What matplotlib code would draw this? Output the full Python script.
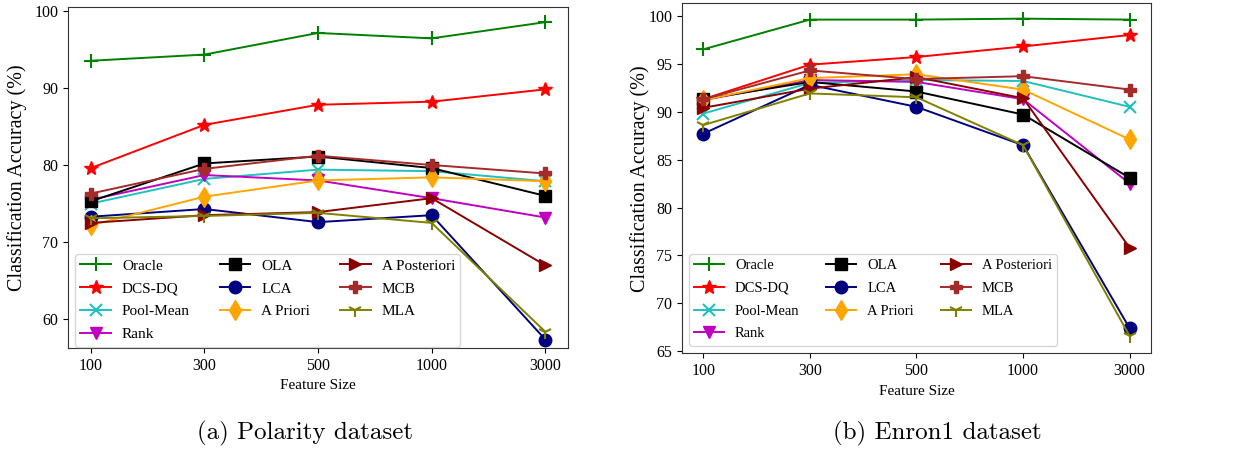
import matplotlib as mpl; mpl.use('agg')
import matplotlib.pyplot as plt

sizes = ['100', '300', '500', '1000', '3000']
methods = ['Oracle', 'DCS-DQ', 'Pool-Mean', 'Rank', 'OLA', 'LCA',
           'A Priori', 'A Posteriori', 'MCB', 'MLA']

# Polarity dataset
polarity = {
    'Oracle':       [93.5, 94.3, 97.1, 96.4, 98.5],
    'DCS-DQ':       [79.6, 85.2, 87.8, 88.2, 89.8],
    'Pool-Mean':    [75.0, 78.2, 79.4, 79.2, 77.9],
    'Rank':         [75.5, 78.7, 78.0, 75.7, 73.2],
    'OLA':          [75.3, 80.2, 81.1, 79.6, 76.0],
    'LCA':          [73.3, 74.3, 72.6, 73.5, 57.4],
    'A Priori':     [72.2, 75.9, 78.0, 78.4, 77.9],
    'A Posteriori': [72.5, 73.5, 73.9, 75.7, 67.0],
    'MCB':          [76.3, 79.5, 81.2, 80.0, 78.9],
    'MLA':          [73.1, 73.4, 73.8, 72.5, 58.4],
}

# Enron1 dataset
enron = {
    'Oracle':       [96.5, 99.6, 99.6, 99.7, 99.6],
    'DCS-DQ':       [91.3, 94.9, 95.7, 96.8, 98.0],
    'Pool-Mean':    [89.8, 93.0, 93.3, 93.2, 90.5],
    'Rank':         [91.2, 93.3, 93.1, 91.3, 82.5],
    'OLA':          [91.3, 93.1, 92.1, 89.7, 83.1],
    'LCA':          [87.7, 92.8, 90.5, 86.5, 67.4],
    'A Priori':     [91.2, 93.5, 93.9, 92.3, 87.1],
    'A Posteriori': [90.4, 92.4, 93.6, 91.4, 75.8],
    'MCB':          [91.3, 94.3, 93.4, 93.7, 92.3],
    'MLA':          [88.6, 91.9, 91.5, 86.5, 66.6],
}

styles = {
    'Oracle':       ('green', '+', 10),
    'DCS-DQ':       ('red', '*', 10),
    'Pool-Mean':    ('#20c0c0', 'x', 9),
    'Rank':         ('m', 'v', 9),
    'OLA':          ('black', 's', 9),
    'LCA':          ('navy', 'o', 9),
    'A Priori':     ('orange', 'd', 10),
    'A Posteriori': ('darkred', '>', 9),
    'MCB':          ('brown', 'P', 9),
    'MLA':          ('olive', '1', 10),
}

plt.rcParams['font.family'] = ['Liberation Serif', 'DejaVu Serif']
plt.rcParams['font.size'] = 11.5

fig = plt.figure(figsize=(12.33, 4.53), dpi=100)
ax1 = fig.add_axes([0.0552, 0.2318, 0.4055, 0.7534])
ax2 = fig.add_axes([0.5531, 0.2201, 0.3804, 0.7726])

# legend settings differ a little between the two panels
leg_opts = {
    ax1: dict(fontsize=11, handlelength=2.0, handletextpad=0.72,
              columnspacing=1.95, labelspacing=0.6, borderpad=0.35,
              bbox_to_anchor=(0.014, 0.004)),
    ax2: dict(fontsize=10.5, handlelength=2.05, handletextpad=0.75,
              columnspacing=1.85, labelspacing=0.66, borderpad=0.35,
              bbox_to_anchor=(0.015, 0.022)),
}
ypad = {ax1: 5, ax2: -1}

for ax, data in [(ax1, polarity), (ax2, enron)]:
    x = range(len(sizes))
    for m in methods:
        c, mk, ms = styles[m]
        ax.plot(x, data[m], color=c, marker=mk, markersize=ms, lw=1.4,
                mew=1.5 if mk in ['+', 'x', '1'] else 1, label=m)
    ax.set_xticks(list(x))
    ax.set_xticklabels(sizes)
    ax.set_xlim(-0.2, 4.2)
    ax.set_xlabel('Feature Size', fontsize=11)
    ax.set_ylabel('Classification Accuracy (%)', fontsize=14.5, labelpad=ypad[ax])
    ax.legend(ncol=3, loc='lower left', borderaxespad=0, **leg_opts[ax])
    for s in ax.spines.values():
        s.set_color('#333333')

ax1.set_ylim(56.3, 100.5)
ax1.set_yticks([60, 70, 80, 90, 100])
ax2.set_ylim(64.8, 101.3)
ax2.set_yticks([65, 70, 75, 80, 85, 90, 95, 100])

fig.text(305/1233, 1 - 433/453, '(a) Polarity dataset', family='cmr10',
         fontsize=18, ha='center', va='center')
fig.text(937/1233, 1 - 433/453, '(b) Enron1 dataset', family='cmr10',
         fontsize=18, ha='center', va='center')

fig.savefig('out.png', dpi=100)
